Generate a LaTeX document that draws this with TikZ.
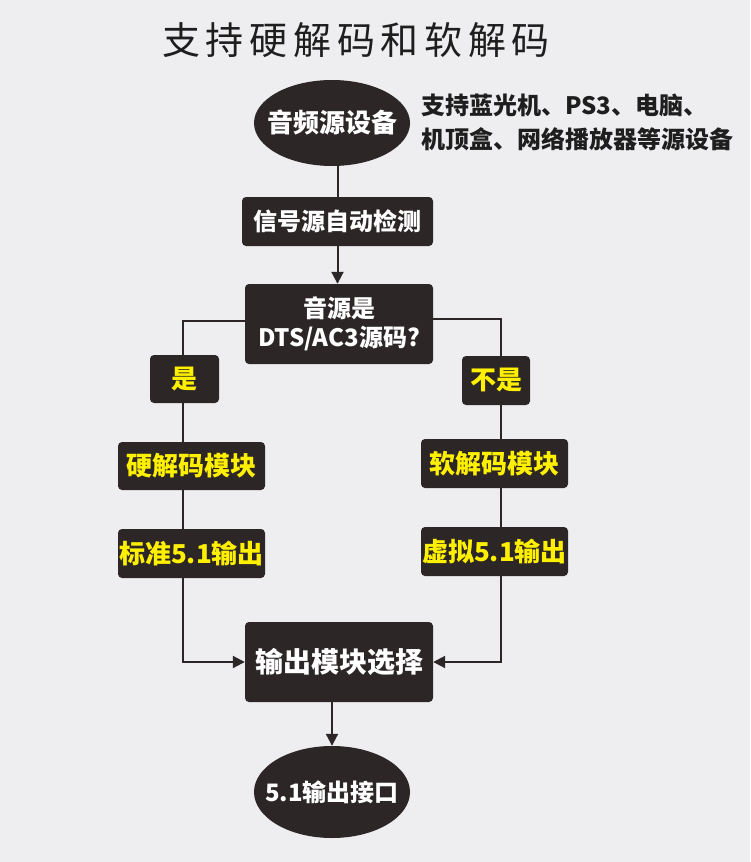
\documentclass[tikz,border=0pt]{standalone}
\usepackage{fontspec}
\usetikzlibrary{shapes.geometric,arrows.meta,backgrounds}
\newfontfamily\cjk{Noto Sans CJK SC}
\newfontfamily\titlefont[LetterSpace=15]{Noto Sans CJK SC}
\definecolor{bg}{HTML}{EEEEF0}
\definecolor{boxc}{HTML}{2C2627}
\definecolor{yel}{HTML}{FFF000}
\definecolor{ink}{HTML}{1E1E1E}
\tikzset{
  box/.style={fill=boxc, rounded corners=4pt, text=white, inner sep=0pt, align=center,
    font=\cjk\bfseries\fontsize{24}{29}\selectfont},
  ybox/.style={box, text=yel, font=\cjk\bfseries\fontsize{26}{30}\selectfont},
  oval/.style={ellipse, fill=boxc, inner sep=0pt, minimum width=156pt},
  ovaltext/.style={text=white, inner sep=0pt, font=\cjk\bfseries\fontsize{#1}{30}\selectfont},
  conn/.style={draw=boxc, line width=2pt},
  arr/.style={conn, -{Triangle[length=12pt,width=12pt]}}
}
\begin{document}
\begin{tikzpicture}[x=1pt,y=-1pt]
\useasboundingbox (0,0) rectangle (750,862);
% nodes
\node[font=\titlefont\fontsize{38}{40}\selectfont, text=ink] (title) at (356,40) {支持硬解码和软解码};
\node[oval, minimum height=86pt, label={[ovaltext=26]center:音频源设备}] (e1) at (332,123) {};
\node[anchor=west, align=left, text=ink, inner sep=0pt, font=\cjk\bfseries\fontsize{24}{34}\selectfont] (side) at (421,122) {支持蓝光机、PS3、电脑、\\机顶盒、网络播放器等源设备};
\node[box, minimum width=191pt, minimum height=49pt] (b1) at (337.5,221.5) {信号源自动检测};
\node[box, minimum width=188pt, minimum height=80pt] (dec) at (339,324) {音源是\\DTS/AC3源码?};
\node[ybox, minimum width=69pt, minimum height=48pt] (yes) at (184.5,379) {是};
\node[ybox, minimum width=68pt, minimum height=49pt] (no) at (496,380.5) {不是};
\node[ybox, minimum width=147pt, minimum height=48pt] (hw) at (191.5,466) {硬解码模块};
\node[ybox, minimum width=147pt, minimum height=49pt] (sw) at (494.5,463.5) {软解码模块};
\node[ybox, minimum width=147pt, minimum height=49pt] (so) at (191.5,553.5) {标准5.1输出};
\node[ybox, minimum width=147pt, minimum height=49pt] (vo) at (494.5,551.5) {虚拟5.1输出};
\node[box, minimum width=188pt, minimum height=80pt, font=\cjk\bfseries\fontsize{28}{32}\selectfont] (sel) at (339,662) {输出模块选择};
\node[oval, minimum height=92pt, label={[ovaltext=24]center:5.1输出接口}] (e2) at (332,792) {};
\coordinate (L) at (183,321);
\coordinate (R) at (501,319);
% connectors
\begin{scope}[on background layer]
\fill[bg] (0,0) rectangle (750,862);
\draw[conn] (b1.north |- e1.south) -- (b1.north);
\draw[arr] (b1.south) -- (b1.south |- dec.north);
\draw[arr] (dec.west |- L) -- (L) |- (sel.west);
\draw[arr] (dec.east |- R) -- (R) |- (sel.east);
\draw[arr] (sel.south -| e2) -- (e2.north);
\end{scope}
\end{tikzpicture}
\end{document}
